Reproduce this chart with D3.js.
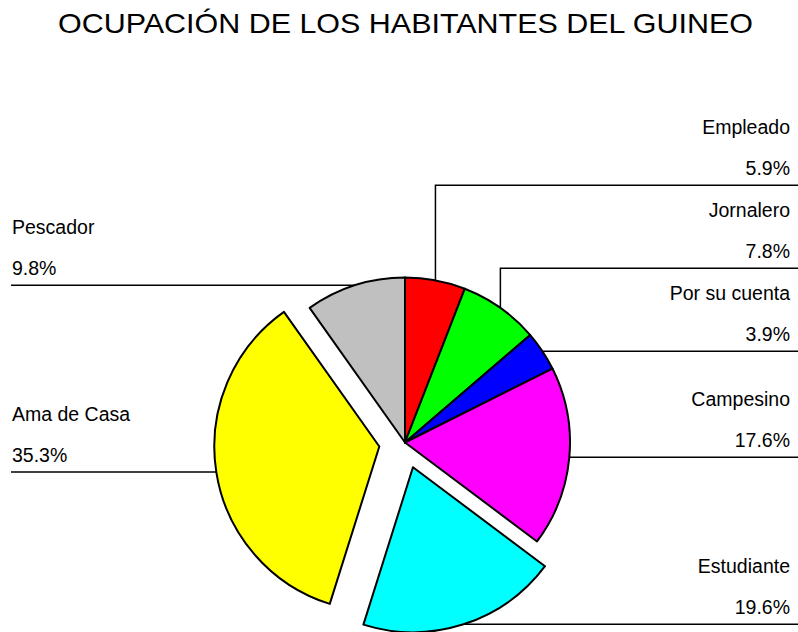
<!DOCTYPE html>
<html>
<head>
<meta charset="utf-8">
<script src="https://cdn.jsdelivr.net/npm/d3@7"></script>
<style>
  body { margin: 0; background: #fff; }
  text { font-family: "Liberation Sans", Arial, sans-serif; fill: #000; }
</style>
</head>
<body>
<div id="chart"></div>
<script>
// data
const categories = ["Empleado", "Jornalero", "Por su cuenta", "Campesino", "Estudiante", "Ama de Casa", "Pescador"];
const percentages = [5.9, 7.8, 3.9, 17.6, 19.6, 35.3, 9.8];
const sliceColors = ["#ff0000", "#00ff00", "#0000ff", "#ff00ff", "#00ffff", "#ffff00", "#c0c0c0"];
const exploded = ["Estudiante", "Ama de Casa"];
const title = "OCUPACIÓN DE LOS HABITANTES DEL GUINEO";

function pieChart(tag) {
    const width = 798, height = 632;
    const cx = 405, cy = 442.5, radius = 165, explode = 26;
    const labelGap = 83;

    const svg = d3.select(tag).append("svg")
        .attr("width", width)
        .attr("height", height)

    svg.append("text")
        .attr("x", 58)
        .attr("y", 33)
        .attr("font-size", 28)
        .attr("textLength", 695)
        .attr("lengthAdjust", "spacingAndGlyphs")
        .text(title)

    const data = categories.map((c, i) => ({ name: c, value: percentages[i], color: sliceColors[i] }))
    const arcs = d3.pie().sort(null).value(d => d.value)(data)
    const arc = d3.arc().innerRadius(0).outerRadius(radius)

    // slice offsets and leader anchor on the rim
    for (const a of arcs) {
        const mid = (a.startAngle + a.endAngle) / 2
        const off = exploded.includes(a.data.name) ? explode : 0
        a.dx = off * Math.sin(mid)
        a.dy = -off * Math.cos(mid)
        a.ex = cx + a.dx + radius * Math.sin(mid)
        a.ey = cy + a.dy - radius * Math.cos(mid)
        a.right = mid < Math.PI
        a.ly = a.ey
    }
    // push labels apart, bottom up
    for (const side of [true, false]) {
        const group = arcs.filter(a => a.right === side).sort((p, q) => q.ey - p.ey)
        for (let i = 1; i < group.length; i++) {
            group[i].ly = Math.min(group[i].ly, group[i - 1].ly - labelGap)
        }
    }

    // leader lines
    svg.append("g")
        .attr("fill", "none")
        .attr("stroke", "#000")
        .attr("stroke-width", 1.5)
        .selectAll("path")
        .data(arcs)
        .join("path")
        .attr("d", a => {
            const endX = a.right ? width : 11
            return `M${a.ex},${a.ey}L${a.ex},${a.ly}L${endX},${a.ly}`
        })

    // slices
    svg.append("g")
        .attr("transform", `translate(${cx},${cy})`)
        .selectAll("path")
        .data(arcs)
        .join("path")
        .attr("transform", a => `translate(${a.dx},${a.dy})`)
        .attr("d", arc)
        .attr("fill", a => a.data.color)
        .attr("stroke", "#000")
        .attr("stroke-width", 2)
        .attr("stroke-linejoin", "round")

    // labels
    const labels = svg.append("g")
        .selectAll("g")
        .data(arcs)
        .join("g")
        .attr("text-anchor", a => a.right ? "end" : "start")
        .attr("font-size", 19.5)
    labels.append("text")
        .attr("x", a => a.right ? 790 : 12)
        .attr("y", a => a.ly - 51)
        .text(a => a.data.name)
    labels.append("text")
        .attr("x", a => a.right ? 790 : 12)
        .attr("y", a => a.ly - 10.5)
        .text(a => a.data.value.toFixed(1) + "%")
}

pieChart("#chart")
</script>
</body>
</html>
